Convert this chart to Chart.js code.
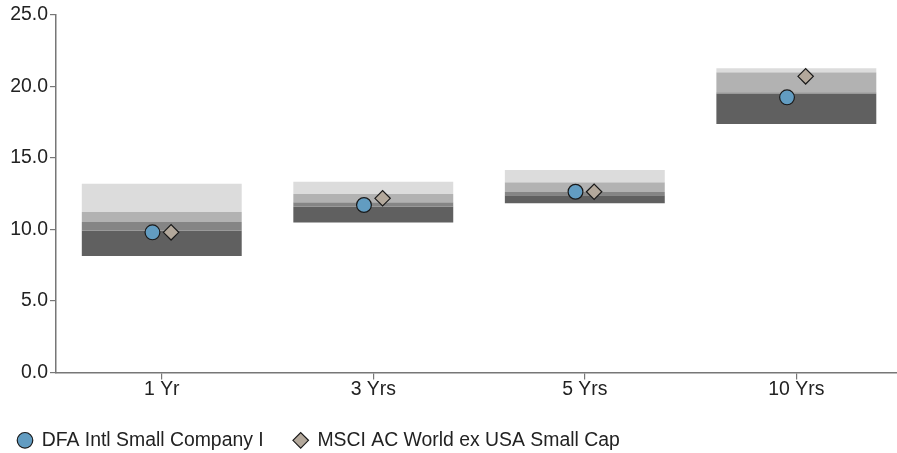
<!DOCTYPE html>
<html>
<head>
<meta charset="utf-8">
<script src="https://cdn.jsdelivr.net/npm/chart.js@4.4.1/dist/chart.umd.min.js"></script>
<style>
  html, body { margin: 0; padding: 0; overflow: hidden; background: #ffffff; width: 897px; height: 453px; }
  #wrap { position: absolute; left: -12.5px; top: 0; width: 923px; height: 460px; }
</style>
</head>
<body>
<div id="wrap"><canvas id="c"></canvas></div>
<script>
// ---- data ----
const categories = ['1 Yr', '3 Yrs', '5 Yrs', '10 Yrs'];
const pct5  = [13.20, 13.34, 14.16, 21.27];   // top of range
const pct25 = [11.22, 12.48, 13.30, 20.99];
const pct50 = [10.52, 11.90, 12.62, 19.59];
const pct75 = [9.92, 11.59, 12.39, 19.50];
const pct95 = [8.15, 10.48, 11.83, 17.38];    // bottom of range
const fundValues  = [9.80, 11.71, 12.64, 19.24];
const indexValues = [9.80, 12.18, 12.64, 20.71];
const seriesNames = ['DFA Intl Small Company I', 'MSCI AC World ex USA Small Cap'];
const yTicks = [0, 5, 10, 15, 20, 25];

// ---- style ----
const FONT = "'Liberation Sans', Arial, sans-serif";
const FONT_SIZE = 19.4;
const AXIS = '#777777';
const TEXT = '#222222';
const MARKER_SHIFT = 0.044;
const bandColors = ['#dcdcdc', '#b2b2b2', '#858585', '#606060'];

const band = (lo, hi) => categories.map((c, i) => [lo[i], hi[i]]);
const barBase = { type: 'bar', grouped: false, borderWidth: 0, categoryPercentage: 1.0, barPercentage: 0.756, order: 5, xAxisID: 'x' };

const data = {
  labels: categories,
  datasets: [
    { type: 'line', label: seriesNames[0], xAxisID: 'xm', showLine: false, order: 0,
      data: categories.map((c, i) => ({ x: i - MARKER_SHIFT, y: fundValues[i] })),
      pointStyle: 'circle', pointRadius: 7.4, pointHoverRadius: 7.4,
      backgroundColor: '#629cc1', borderColor: '#1a1a1a', pointBorderWidth: 1.2, borderWidth: 1.2 },
    { type: 'line', label: seriesNames[1], xAxisID: 'xm', showLine: false, order: 1,
      data: categories.map((c, i) => ({ x: i + MARKER_SHIFT, y: indexValues[i] })),
      pointStyle: 'rectRot', pointRadius: 7.7, pointHoverRadius: 7.7,
      backgroundColor: '#b3a89b', borderColor: '#1a1a1a', pointBorderWidth: 1.2, borderWidth: 1.2 },
    Object.assign({}, barBase, { data: band(pct25, pct5),  backgroundColor: bandColors[0] }),
    Object.assign({}, barBase, { data: band(pct50, pct25), backgroundColor: bandColors[1] }),
    Object.assign({}, barBase, { data: band(pct75, pct50), backgroundColor: bandColors[2] }),
    Object.assign({}, barBase, { data: band(pct95, pct75), backgroundColor: bandColors[3] })
  ]
};

new Chart(document.getElementById('c'), {
  type: 'bar',
  data: data,
  options: {
    responsive: true,
    maintainAspectRatio: false,
    animation: false,
    layout: { padding: { top: 15, left: 0, right: 0, bottom: 0 } },
    plugins: {
      tooltip: { enabled: false },
      legend: {
        position: 'bottom',
        align: 'start',
        labels: {
          filter: (item) => item.datasetIndex < 2,
          usePointStyle: true,
          boxWidth: 14,
          boxHeight: 11,
          padding: 30,
          color: TEXT,
          font: { family: FONT, size: FONT_SIZE }
        }
      }
    },
    scales: {
      x: {
        type: 'category',
        offset: true,
        border: { display: true, color: AXIS, width: 1.5 },
        grid: { display: true, drawOnChartArea: false, drawTicks: true, tickLength: 7, color: AXIS, lineWidth: 1.2, offset: false },
        ticks: { color: TEXT, padding: 0, font: { family: FONT, size: FONT_SIZE, lineHeight: 1.09 } }
      },
      xm: {
        type: 'linear',
        display: false,
        offset: false,
        grid: { offset: false },
        ticks: { display: false },
        min: -0.5,
        max: categories.length - 0.5
      },
      y: {
        type: 'linear',
        min: yTicks[0],
        max: yTicks[yTicks.length - 1],
        afterBuildTicks: (axis) => { axis.ticks = yTicks.map(v => ({ value: v })); },
        afterFit: (axis) => { axis.width = 68; },
        border: { display: true, color: AXIS, width: 1.5 },
        grid: { display: true, drawOnChartArea: false, drawTicks: true, tickLength: 6, color: AXIS, lineWidth: 1.2 },
        ticks: { color: TEXT, padding: 2, font: { family: FONT, size: FONT_SIZE }, callback: (v) => Number(v).toFixed(1) }
      }
    }
  }
});
</script>
</body>
</html>
